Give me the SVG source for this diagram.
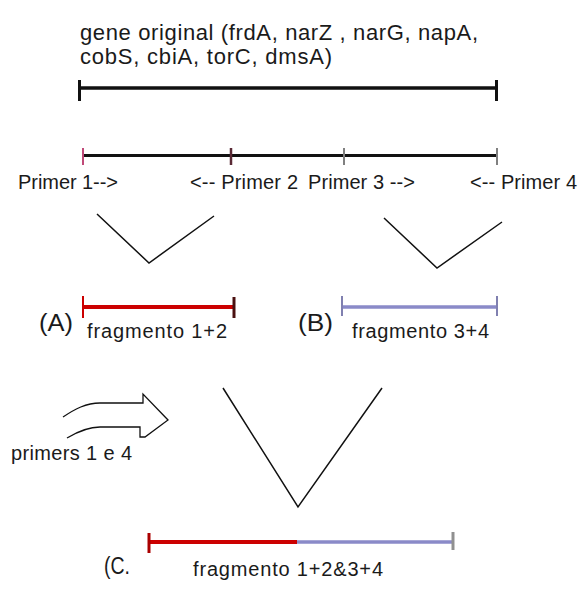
<svg xmlns="http://www.w3.org/2000/svg" width="581" height="599" viewBox="0 0 581 599">
<style>
text{font-family:"Liberation Sans",Arial,sans-serif;fill:#1a1a1a}
.t22{font-size:22px}
.t20{font-size:20px}
.t23{font-size:23px}
.blk{stroke:#111;fill:none}
.red{stroke:#cc0000;fill:none}
.blue{stroke:#8a8ac8;fill:none}
.v{stroke:#111;stroke-width:1.5;fill:none;stroke-linejoin:miter}
</style>
<rect width="581" height="599" fill="#ffffff"/>
<g id="gene-original">
<text class="t22" x="80" y="40" textLength="398" lengthAdjust="spacing">gene original (frdA, narZ , narG, napA,</text>
<text class="t22" x="80" y="64" textLength="252" lengthAdjust="spacing">cobS, cbiA, torC, dmsA)</text>
<line class="blk" x1="78" y1="88" x2="497" y2="88" stroke-width="3.5"/>
<line class="blk" x1="79.5" y1="80" x2="79.5" y2="101" stroke-width="3"/>
<line class="blk" x1="496.5" y1="80" x2="496.5" y2="101" stroke-width="3"/>
</g>
<g id="primers">
<line class="blk" x1="83" y1="155.5" x2="497" y2="155.5" stroke-width="3"/>
<line x1="83" y1="148" x2="83" y2="165" stroke="#c04a78" stroke-width="2"/>
<line x1="231" y1="148" x2="231" y2="165" stroke="#5a2a35" stroke-width="2.5"/>
<line x1="344" y1="148" x2="344" y2="165" stroke="#808080" stroke-width="2"/>
<line x1="497" y1="148" x2="497" y2="165" stroke="#808080" stroke-width="2"/>
<text class="t20" x="18" y="189" textLength="100" lengthAdjust="spacing">Primer 1--&gt;</text>
<text class="t20" x="190" y="189" textLength="108" lengthAdjust="spacing">&lt;-- Primer 2</text>
<text class="t20" x="308" y="189" textLength="107" lengthAdjust="spacing">Primer 3 --&gt;</text>
<text class="t20" x="470" y="189" textLength="107" lengthAdjust="spacing">&lt;-- Primer 4</text>
</g>
<g id="fragment-A">
<text class="t23" x="39" y="331" textLength="34" lengthAdjust="spacingAndGlyphs">(A)</text>
<line class="red" x1="83" y1="307" x2="234" y2="307" stroke-width="4"/>
<line x1="83" y1="296" x2="83" y2="318" stroke="#cc0000" stroke-width="2"/>
<line x1="234" y1="297" x2="234" y2="318" stroke="#4a1010" stroke-width="3"/>
<text class="t20" x="87" y="338" textLength="140" lengthAdjust="spacing">fragmento 1+2</text>
</g>
<g id="fragment-B">
<text class="t23" x="298" y="331" textLength="35" lengthAdjust="spacingAndGlyphs">(B)</text>
<line class="blue" x1="342" y1="307" x2="497" y2="307" stroke-width="3.5"/>
<line x1="342" y1="296" x2="342" y2="316" stroke="#8080b0" stroke-width="2"/>
<line x1="497" y1="296" x2="497" y2="316" stroke="#8080b0" stroke-width="2"/>
<text class="t20" x="352" y="338" textLength="137" lengthAdjust="spacing">fragmento 3+4</text>
</g>
<g id="primers-1-4">
<path class="blk" stroke-width="1.3" d="M63,417 C75,409 86,403 100,403 L143,403 L143,394 L168,420 L145,437 L140,437 L140,427 L100,427 C88,427 77,432 67,438"/>
<text class="t20" x="11" y="460" textLength="121" lengthAdjust="spacing">primers 1 e 4</text>
</g>
<g id="fragment-C">
<text class="t23" x="104" y="574" textLength="26" lengthAdjust="spacingAndGlyphs">(C.</text>
<line class="red" x1="149" y1="542" x2="297" y2="542" stroke-width="4"/>
<line class="blue" x1="297" y1="542" x2="453" y2="542" stroke-width="3.5"/>
<line x1="149" y1="533" x2="149" y2="553" stroke="#aa0000" stroke-width="3"/>
<line x1="453" y1="532" x2="453" y2="550" stroke="#909090" stroke-width="3"/>
<text class="t20" x="193" y="576" textLength="190" lengthAdjust="spacing">fragmento 1+2&amp;3+4</text>
</g>
<g id="connectors">
<polyline class="v" points="97,214 149,263 214,216"/>
<polyline class="v" points="384,218 437,268 502,222"/>
<polyline class="v" points="223,388 298,507 382,388"/>
</g>
</svg>
